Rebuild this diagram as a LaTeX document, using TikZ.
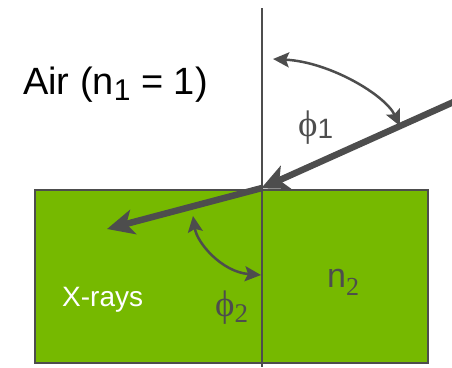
\documentclass[tikz,border=0pt]{standalone}
\usepackage{fontspec}
\setmainfont{Liberation Sans}
\newfontfamily\serifface{Liberation Serif}
\usetikzlibrary{arrows.meta}
\definecolor{nvgreen}{HTML}{76B900}
\definecolor{lgray}{HTML}{4D4D4D}
\tikzset{
  ray/.style={draw=lgray, line width=6.5pt, -{Stealth[length=27pt,width=25pt,inset=7pt]}},
  anglearc/.style={draw=lgray, line width=2.5pt, {Stealth[length=16pt,width=15pt,inset=3pt]}-{Stealth[length=16pt,width=15pt,inset=3pt]}},
  lbl/.style={inner sep=0pt, anchor=base west, text=lgray},
}
\newcommand{\phisym}{{\serifface\symbol{"03D5}}}
\begin{document}
\begin{tikzpicture}[x=1pt,y=-1pt]
\useasboundingbox (0,0) rectangle (452,367);
% medium
\node[draw=lgray, line width=2pt, fill=nvgreen, minimum width=393pt, minimum height=173pt, inner sep=0pt, anchor=north west] (medium) at (34,189) {};
% normal
\coordinate (ntop) at (261.5,8);
\coordinate (nbot) at (261.5,367);
\draw[lgray, line width=2pt] (ntop) -- (nbot);
% rays
\coordinate (src) at (458,100);
\coordinate (hit) at (262,188);
\coordinate (out) at (107,229);
\draw[ray, shorten >=-1pt] (src) -- (hit);
\draw[ray] (hit) -- (out);
% angle arcs
\coordinate (a1s) at (273,59);
\coordinate (a1e) at (400,126);
\draw[anglearc] (a1s) .. controls (330,62) and (385,95) .. (a1e);
\coordinate (a2s) at (193,216);
\coordinate (a2e) at (261,275);
\draw[anglearc] (a2s) .. controls (197,243) and (222,272) .. (a2e);
% labels
\node[lbl, text=black] (air) at (23,94) {\fontsize{38}{40}\selectfont Air (n\raisebox{-6pt}{\fontsize{30}{30}\selectfont 1} = 1)};
\node[lbl] (phi1) at (298,136) {\fontsize{37}{37}\selectfont\phisym\raisebox{-2pt}{\fontsize{28}{28}\selectfont 1}};
\node[lbl] (phi2) at (215,316) {\fontsize{37}{37}\selectfont\phisym\raisebox{-6pt}{\fontsize{27}{27}\selectfont\serifface 2}};
\node[lbl] (n2) at (327,287) {\fontsize{34}{34}\selectfont n\raisebox{-8pt}{\fontsize{26}{26}\selectfont\serifface 2}};
\node[lbl, text=white] (xrays) at (62,306) {\fontsize{28}{28}\selectfont X-rays};
\end{tikzpicture}
\end{document}
